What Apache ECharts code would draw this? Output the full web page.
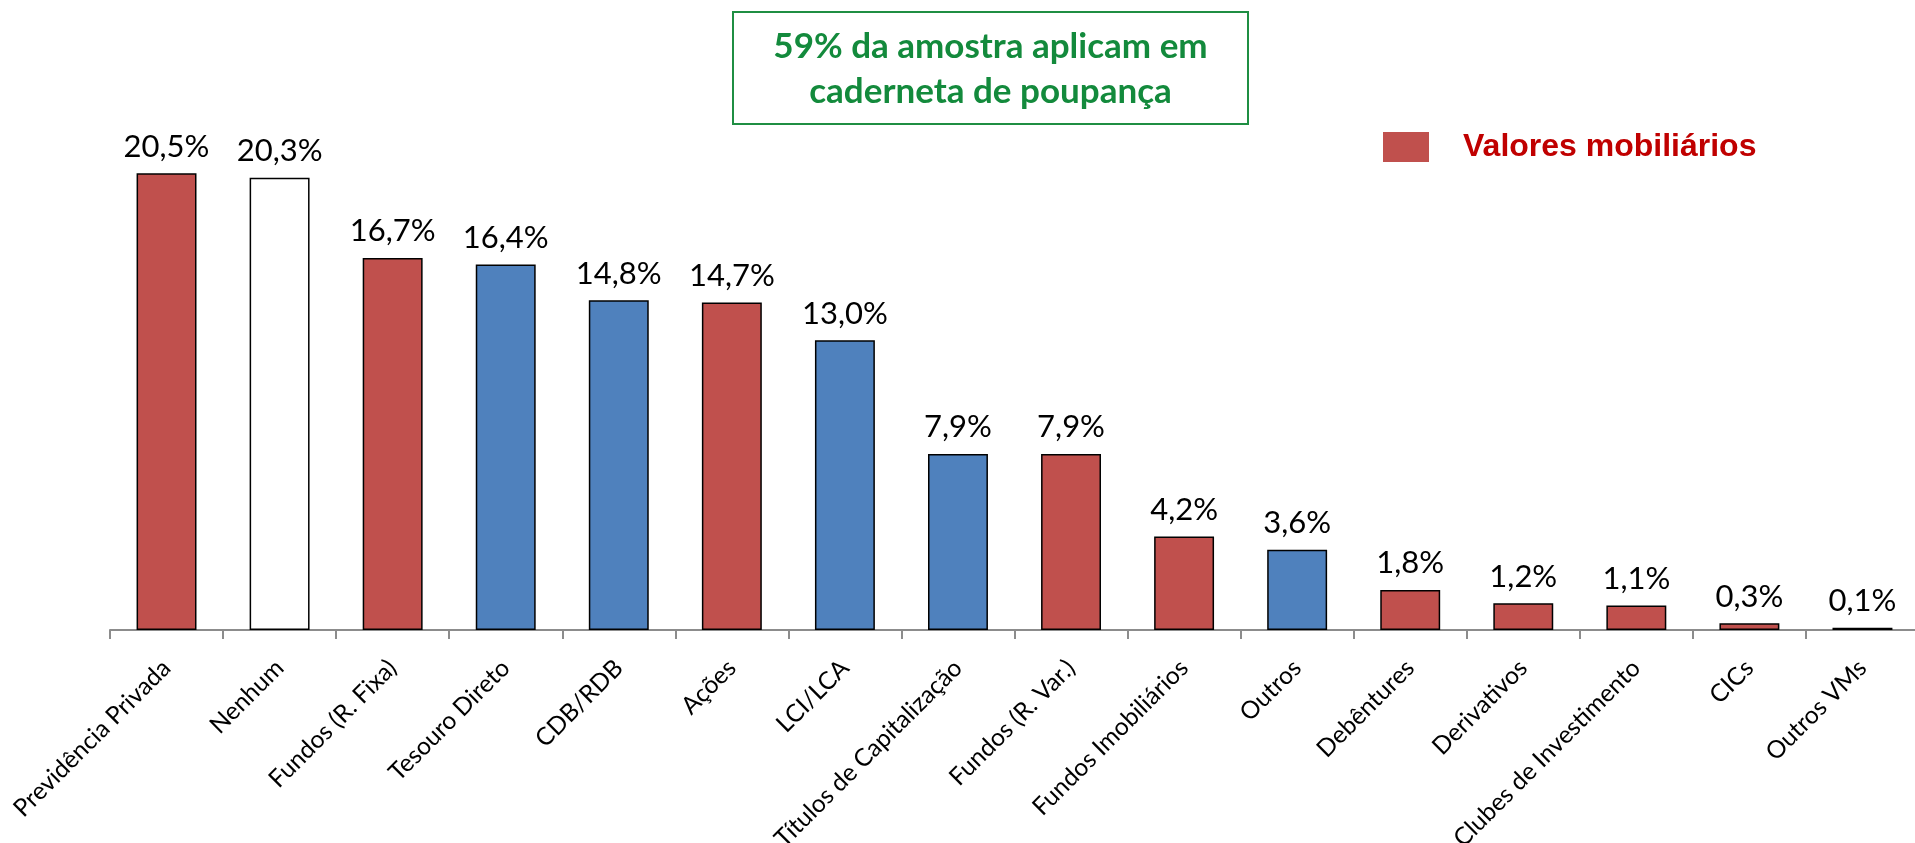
<!DOCTYPE html>
<html>
<head>
<meta charset="utf-8">
<script src="https://cdn.jsdelivr.net/npm/echarts@6/dist/echarts.min.js"></script>
<style>
html,body{margin:0;padding:0;background:#fff;}
#chart{width:1915px;height:843px;}
</style>
</head>
<body>
<div id="chart"></div>
<script>
const categories = ['Previdência Privada','Nenhum','Fundos (R. Fixa)','Tesouro Direto','CDB/RDB','Ações','LCI/LCA','Títulos de Capitalização','Fundos (R. Var.)','Fundos Imobiliários','Outros','Debêntures','Derivativos','Clubes de Investimento','CICs','Outros VMs'];
const values = [20.5,20.3,16.7,16.4,14.8,14.7,13.0,7.9,7.9,4.2,3.6,1.8,1.2,1.1,0.3,0.1];
// group of each category: 'vm' = valores mobiliários, 'none' = nenhum, 'other' = outros investimentos
const groups = ['vm','none','vm','other','other','vm','other','other','vm','vm','other','vm','vm','vm','vm','vm'];
const legendLabel = 'Valores mobiliários';
const noteLines = ['59% da amostra aplicam em','caderneta de poupança'];

const colorMap = {vm:'#c0504d', none:'#ffffff', other:'#4f81bd'};

const chart = echarts.init(document.getElementById('chart'));
chart.setOption({
  animation:false,
  backgroundColor:'#fff',
  grid:{left:110, top:73, width:1809, height:557, containLabel:false, outerBoundsMode:'none'},
  legend:{
    data:[legendLabel],
    left:1383, top:131,
    padding:0,
    itemWidth:46, itemHeight:30,
    icon:'rect',
    selectedMode:false,
    itemStyle:{borderWidth:0},
    textStyle:{fontFamily:'Liberation Sans, Arial', fontWeight:'bold', fontSize:32, color:'#c00000', padding:[0,0,0,29]}
  },
  xAxis:{
    type:'category',
    data:categories,
    axisLine:{lineStyle:{color:'#8c8c8c', width:2}},
    axisTick:{show:true, length:9, lineStyle:{color:'#8c8c8c', width:2}},
    axisLabel:{rotate:45, interval:0, margin:34, fontFamily:'Lato', fontSize:24.5, color:'#000'}
  },
  yAxis:{type:'value', min:0, max:25, show:false, splitLine:{show:false}},
  series:[{
    name:legendLabel,
    type:'bar',
    barWidth:'53%',
    itemStyle:{color:'#c0504d', borderColor:'#000', borderWidth:1.5},
    data:values.map((v,i)=>({value:v, itemStyle:{color:colorMap[groups[i]]}})),
    label:{show:true, position:'top', distance:11, fontFamily:'Lato', fontSize:31, color:'#000',
      formatter:p=>p.value.toFixed(1).replace('.',',')+'%'}
  }],
  graphic:[
    {type:'rect', shape:{x:733, y:12, width:515, height:112}, style:{fill:'#fff', stroke:'#1f8e43', lineWidth:2}},
    {type:'text', x:990.5, y:47, style:{text:noteLines[0], fontFamily:'Lato', fontWeight:'bold', fontSize:35, fill:'#138a3c', align:'center', verticalAlign:'middle'}},
    {type:'text', x:990.5, y:92, style:{text:noteLines[1], fontFamily:'Lato', fontWeight:'bold', fontSize:35, fill:'#138a3c', align:'center', verticalAlign:'middle'}}
  ]
});
</script>
</body>
</html>
